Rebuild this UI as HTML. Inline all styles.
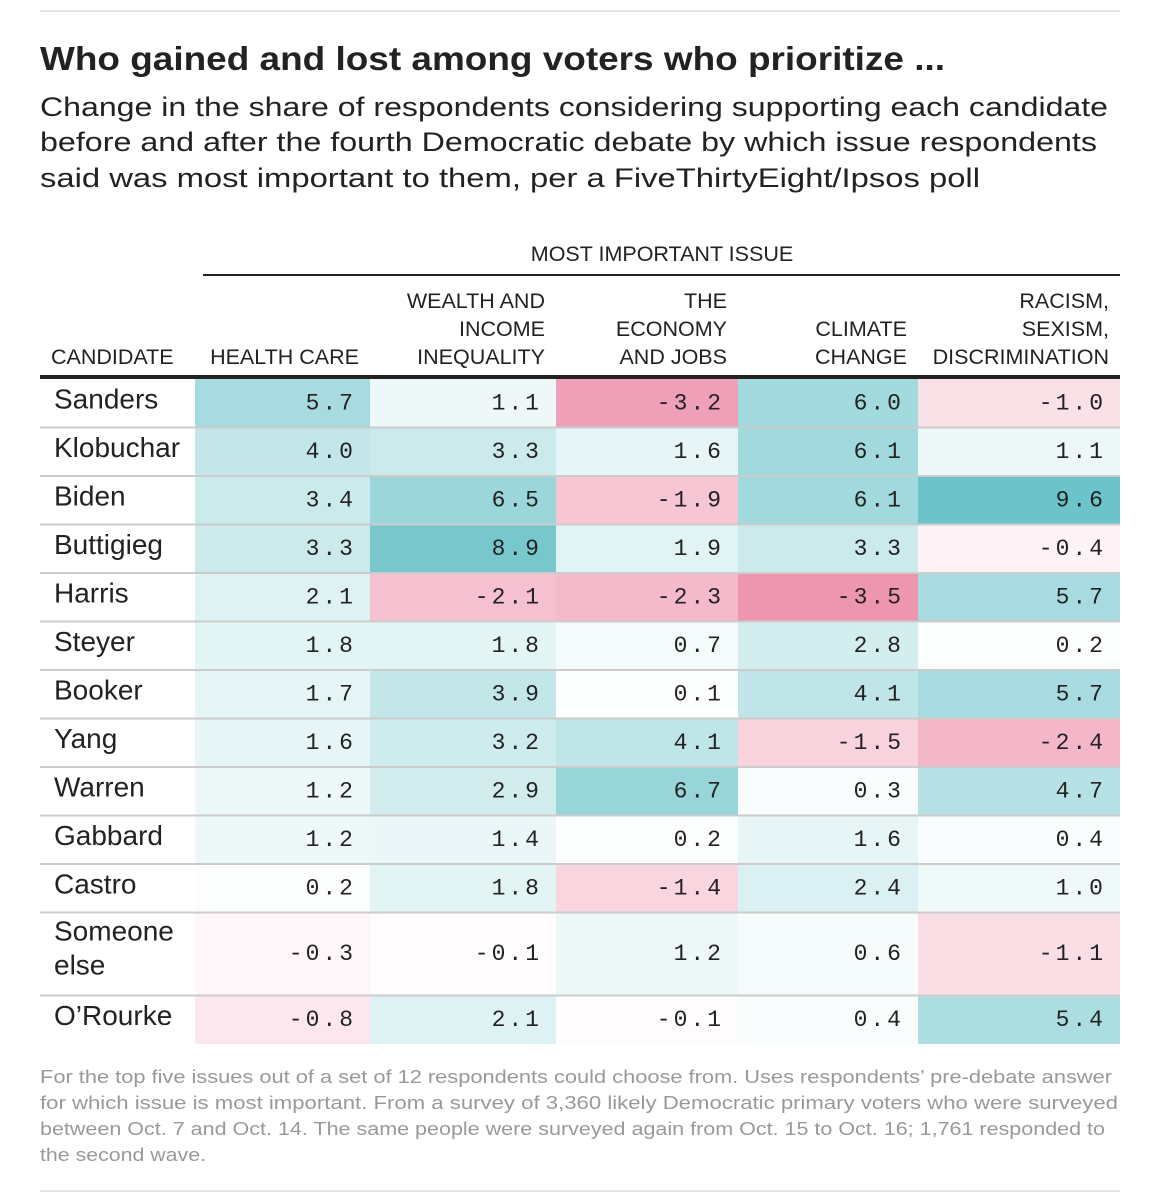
<!DOCTYPE html>
<html><head><meta charset="utf-8"><style>
html,body{margin:0;padding:0;background:#fff;}
svg{display:block;}
.t{font-family:"Liberation Sans",sans-serif;}
.m{font-family:"Liberation Mono","DejaVu Sans Mono",monospace;}
</style></head><body>
<svg id="chart" width="1157" height="1200" viewBox="0 0 1157 1200">
<line x1="40" y1="11" x2="1120" y2="11" stroke="#e6e6e6" stroke-width="2"/>
<text class="t" x="40" y="70" font-size="33" font-weight="bold" fill="#222" textLength="905" lengthAdjust="spacingAndGlyphs">Who gained and lost among voters who prioritize ...</text>
<g class="t" font-size="27" fill="#222">
<text x="40" y="116" textLength="1068" lengthAdjust="spacingAndGlyphs">Change in the share of respondents considering supporting each candidate</text>
<text x="40" y="151" textLength="1057" lengthAdjust="spacingAndGlyphs">before and after the fourth Democratic debate by which issue respondents</text>
<text x="40" y="187" textLength="940" lengthAdjust="spacingAndGlyphs">said was most important to them, per a FiveThirtyEight/Ipsos poll</text>
</g>
<text class="t" x="662" y="261" font-size="21.5" fill="#222" text-anchor="middle">MOST IMPORTANT ISSUE</text>
<line x1="203" y1="275" x2="1120" y2="275" stroke="#222" stroke-width="2"/>
<g id="headers"></g>
<g id="cells"></g>
<line x1="40" y1="377" x2="1120" y2="377" stroke="#222" stroke-width="4"/>
<g class="t" font-size="18" fill="#999">
<text x="40" y="1083" textLength="1072" lengthAdjust="spacingAndGlyphs">For the top five issues out of a set of 12 respondents could choose from. Uses respondents’ pre-debate answer</text>
<text x="40" y="1109" textLength="1078" lengthAdjust="spacingAndGlyphs">for which issue is most important. From a survey of 3,360 likely Democratic primary voters who were surveyed</text>
<text x="40" y="1135" textLength="1065" lengthAdjust="spacingAndGlyphs">between Oct. 7 and Oct. 14. The same people were surveyed again from Oct. 15 to Oct. 16; 1,761 responded to</text>
<text x="40" y="1161" textLength="166" lengthAdjust="spacingAndGlyphs">the second wave.</text>
</g>
<line x1="40" y1="1191" x2="1120" y2="1191" stroke="#e6e6e6" stroke-width="2"/>
</svg>
<script>
const candidates = ["Sanders","Klobuchar","Biden","Buttigieg","Harris","Steyer","Booker","Yang","Warren","Gabbard","Castro","Someone else","O’Rourke"];
const healthCare = [5.7,4.0,3.4,3.3,2.1,1.8,1.7,1.6,1.2,1.2,0.2,-0.3,-0.8];
const wealthInequality = [1.1,3.3,6.5,8.9,-2.1,1.8,3.9,3.2,2.9,1.4,1.8,-0.1,2.1];
const economyJobs = [-3.2,1.6,-1.9,1.9,-2.3,0.7,0.1,4.1,6.7,0.2,-1.4,1.2,-0.1];
const climateChange = [6.0,6.1,6.1,3.3,-3.5,2.8,4.1,-1.5,0.3,1.6,2.4,0.6,0.4];
const racismSexism = [-1.0,1.1,9.6,-0.4,5.7,0.2,5.7,-2.4,4.7,0.4,1.0,-1.1,5.4];
const issueLabels = [["HEALTH CARE"],["WEALTH AND","INCOME","INEQUALITY"],["THE","ECONOMY","AND JOBS"],["CLIMATE","CHANGE"],["RACISM,","SEXISM,","DISCRIMINATION"]];

const series = [healthCare, wealthInequality, economyJobs, climateChange, racismSexism];
const NS = "http://www.w3.org/2000/svg";
const colX = [195,370,556,738,918,1120];
const top0 = 379, rowH = 48.5, tallH = 83;
function rowTop(i){ let y = top0; for(let k=0;k<i;k++) y += (candidates[k].length>10?tallH:rowH); return y; }
function rowHeight(i){ return candidates[i].length>10?tallH:rowH; }
function color(v){
  if(v>=0){ const f=Math.min(v/9.6,1); return `rgb(${Math.round(255-147*f)},${Math.round(255-60*f)},${Math.round(255-54*f)})`; }
  const f=Math.min(-v/3.5,1); return `rgb(${Math.round(255-17*f)},${Math.round(255-105*f)},${Math.round(255-79*f)})`;
}
const hdr = document.getElementById('headers');
const ct = document.createElementNS(NS,'text');
ct.setAttribute('x',51); ct.setAttribute('y',364); ct.setAttribute('class','t'); ct.setAttribute('font-size','21.5'); ct.setAttribute('fill','#222');
ct.textContent='CANDIDATE';


hdr.appendChild(ct);
issueLabels.forEach((lines,j)=>{
  lines.forEach((ln,li)=>{
    const t=document.createElementNS(NS,'text');
    t.setAttribute('x',colX[j+1]-11);
    t.setAttribute('y',364-(lines.length-1-li)*28);
    t.setAttribute('text-anchor','end'); t.setAttribute('class','t'); t.setAttribute('font-size','21.5'); t.setAttribute('fill','#222');
    t.textContent=ln;
    
    
    hdr.appendChild(t);
  });
});
const cells = document.getElementById('cells');
candidates.forEach((c,i)=>{
  const y=rowTop(i), h=rowHeight(i);
  series.forEach((s,j)=>{
    const r=document.createElementNS(NS,'rect');
    r.setAttribute('x',colX[j]); r.setAttribute('y',y); r.setAttribute('width',colX[j+1]-colX[j]); r.setAttribute('height',h);
    r.setAttribute('fill',color(s[i]));
    
    
    cells.appendChild(r);
    const t=document.createElementNS(NS,'text');
    t.setAttribute('x',colX[j+1]-14); t.setAttribute('y',y+h/2+6);
    t.setAttribute('text-anchor','end'); t.setAttribute('class','m'); t.setAttribute('font-size','23'); t.setAttribute('fill','#222');
    t.setAttribute('letter-spacing','3');
    t.textContent=s[i].toFixed(1);
    
    
    cells.appendChild(t);
  });
  const words = c==="Someone else" ? ["Someone","else"] : [c];
  words.forEach((w,k)=>{
    const t=document.createElementNS(NS,'text');
    t.setAttribute('x',54);
    t.setAttribute('y', words.length>1 ? y+28+k*34 : y+h/2+5);
    t.setAttribute('class','t'); t.setAttribute('font-size','28'); t.setAttribute('fill','#222');
    t.textContent=w;
    
    
    cells.appendChild(t);
  });
  if(i>0){
    const l=document.createElementNS(NS,'line');
    l.setAttribute('x1',40); l.setAttribute('x2',1120); l.setAttribute('y1',y); l.setAttribute('y2',y);
    l.setAttribute('stroke','#cccccc'); l.setAttribute('stroke-width','2');
    
    
    cells.appendChild(l);
  }
});
</script>
</body></html>
